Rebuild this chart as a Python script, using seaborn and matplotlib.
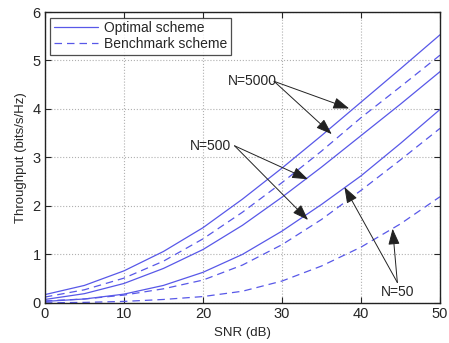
import numpy as np
import pandas as pd
import seaborn as sns
from matplotlib import pyplot as plt

# values, SNR every 5 dB
snr = [0, 5, 10, 15, 20, 25, 30, 35, 40, 45, 50]
opt_5000 = [0.17, 0.36, 0.66, 1.06, 1.55, 2.14, 2.78, 3.45, 4.14, 4.83, 5.53]
bench_5000 = [0.12, 0.27, 0.51, 0.86, 1.32, 1.87, 2.48, 3.13, 3.82, 4.46, 5.11]
opt_500 = [0.07, 0.19, 0.40, 0.71, 1.10, 1.60, 2.18, 2.80, 3.45, 4.10, 4.77]
bench_500 = [0.04, 0.08, 0.16, 0.29, 0.47, 0.78, 1.20, 1.72, 2.32, 2.95, 3.60]
opt_50 = [0.03, 0.08, 0.18, 0.36, 0.63, 1.00, 1.48, 2.03, 2.62, 3.29, 3.99]
bench_50 = [0.00, 0.01, 0.03, 0.07, 0.13, 0.24, 0.45, 0.76, 1.15, 1.63, 2.19]

sns.set_style('ticks')
plt.rcParams['font.family'] = ['Liberation Sans', 'DejaVu Sans']
plt.rcParams['font.size'] = 9

blue = '#5858e8'
fig = plt.figure(figsize=(4.49, 3.43), dpi=100)
ax = fig.add_axes([0.100, 0.117, 0.880, 0.848])

for vals, name in [(opt_5000, 'Optimal scheme'), (opt_500, None), (opt_50, None)]:
    sns.lineplot(x=snr, y=vals, color=blue, lw=0.9, ax=ax, label=name)
for vals, name in [(bench_5000, 'Benchmark scheme'), (bench_500, None), (bench_50, None)]:
    sns.lineplot(x=snr, y=vals, color=blue, lw=0.9, ax=ax, label=name)
    ax.lines[-1].set_dashes((6, 4))

ax.set_xlim(0, 50)
ax.set_ylim(0, 6)
ax.set_xticks(range(0, 51, 10))
ax.set_yticks(range(0, 7))
ax.grid(True, linestyle=':', color='#b0b0b0', lw=0.8)
ax.tick_params(direction='in', top=True, right=True, length=4, labelsize=10.5, pad=3)
for s in ax.spines.values():
    s.set_linewidth(1.0)
    s.set_color('#222222')
ax.set_xlabel('SNR (dB)', fontsize=9.5)
ax.set_ylabel('Throughput (bits/s/Hz)', fontsize=9.5, labelpad=4)

h, l = ax.get_legend_handles_labels()
leg = ax.legend(h, l, loc='upper left', fontsize=10, frameon=True, fancybox=False,
                edgecolor='#222222', borderaxespad=0.4, handlelength=3.2,
                borderpad=0.25, labelspacing=0.15, handletextpad=0.4)
leg.get_frame().set_linewidth(0.9)

arrow = dict(arrowstyle='-|>,head_length=0.7,head_width=0.25', color='#222222',
             lw=0.7, mutation_scale=14, shrinkA=0, shrinkB=0)
# N=5000
ax.annotate('', xy=(38.5, 4.01), xytext=(29.0, 4.57), arrowprops=arrow)
ax.annotate('', xy=(36.3, 3.48), xytext=(29.0, 4.57), arrowprops=arrow)
ax.text(26.3, 4.57, 'N=5000', ha='center', va='center', fontsize=10)
# N=500
ax.annotate('', xy=(33.3, 2.55), xytext=(24.0, 3.24), arrowprops=arrow)
ax.annotate('', xy=(33.3, 1.71), xytext=(24.0, 3.24), arrowprops=arrow)
ax.text(20.9, 3.24, 'N=500', ha='center', va='center', fontsize=10)
# N=50
ax.annotate('', xy=(37.9, 2.39), xytext=(44.6, 0.42), arrowprops=arrow)
ax.annotate('', xy=(44.0, 1.53), xytext=(44.6, 0.42), arrowprops=arrow)
ax.text(44.6, 0.23, 'N=50', ha='center', va='center', fontsize=10)

plt.savefig('out.png', dpi=100)
